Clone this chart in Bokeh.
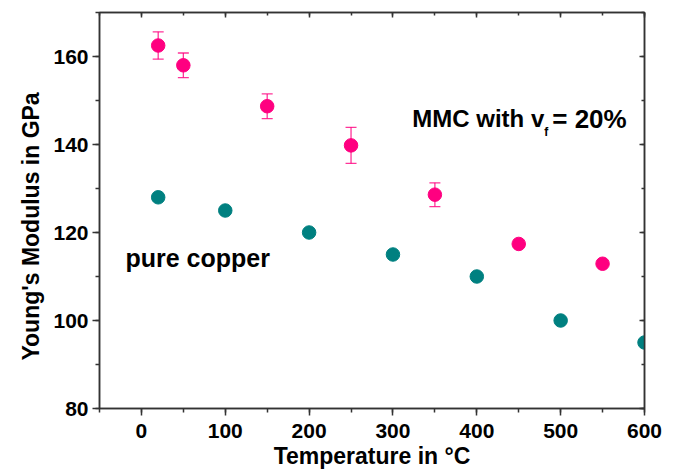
from bokeh.plotting import figure
from bokeh.models import (Range1d, SingleIntervalTicker, LinearAxis, ColumnDataSource,
                          Whisker, TeeHead, Label, CustomJSTickFormatter)
from bokeh.core.properties import value
from bokeh.embed import file_html
from bokeh.resources import INLINE

# Data
mmc_temp = [20, 50, 150, 250, 350, 450, 550]
mmc_mod = [162.5, 158.0, 148.7, 139.8, 128.6, 117.4, 112.9]
mmc_err_temp = [20, 50, 150, 250, 350]
mmc_err_mod = [162.5, 158.0, 148.7, 139.8, 128.6]
mmc_err = [3.1, 2.8, 2.8, 4.1, 2.7]

cu_temp = [20, 100, 200, 300, 400, 500, 600]
cu_mod = [128.0, 125.0, 120.0, 115.0, 110.0, 100.0, 95.0]

PINK = "#ff0080"
TEAL = "#008080"
FONT = "Liberation Sans"
AX = "#333333"

p = figure(width=672, height=471, output_backend="svg", toolbar_location=None,
           x_range=Range1d(-50, 600), y_range=Range1d(80, 170),
           min_border_left=99, min_border_right=28, min_border_top=12, min_border_bottom=63)
p.grid.visible = False
p.outline_line_color = AX
p.outline_line_width = 1.5
p.background_fill_color = "white"
p.border_fill_color = "white"

p.xaxis.ticker = SingleIntervalTicker(interval=100, num_minor_ticks=2)
p.yaxis.ticker = SingleIntervalTicker(interval=20, num_minor_ticks=2)

for ax in (p.xaxis[0], p.yaxis[0]):
    ax.axis_line_color = AX
    ax.axis_line_width = 1.5
    ax.major_tick_line_color = AX
    ax.minor_tick_line_color = AX
    ax.major_tick_line_width = 1.5
    ax.minor_tick_line_width = 1.5
    ax.major_tick_out = 7
    ax.major_tick_in = 0
    ax.minor_tick_out = 4
    ax.minor_tick_in = 0
    ax.major_label_text_font = FONT
    ax.major_label_text_font_style = "bold"
    ax.major_label_text_font_size = "21px"
    ax.major_label_text_color = "black"
    ax.axis_label_text_font = FONT
    ax.axis_label_text_font_style = "bold"
    ax.axis_label_text_font_size = "23px"
    ax.axis_label_text_color = "black"

p.xaxis.axis_label = "Temperature in °C"
p.yaxis.axis_label = "Young's Modulus in GPa" + "\u00a0" * 5
p.xaxis.major_label_standoff = 8
p.yaxis.major_label_standoff = 4
p.xaxis.axis_label_standoff = 2
p.yaxis.axis_label_standoff = 6

blank = CustomJSTickFormatter(code="return ''")
for loc, interval in (("above", 100), ("right", 20)):
    a = LinearAxis(ticker=SingleIntervalTicker(interval=interval, num_minor_ticks=2),
                   formatter=blank, major_label_text_font_size="6px",
                   major_tick_in=5, major_tick_out=0, minor_tick_in=3, minor_tick_out=0,
                   axis_line_color=AX, axis_line_width=1.5,
                   major_tick_line_color=AX, minor_tick_line_color=AX,
                   major_tick_line_width=1.5, minor_tick_line_width=1.5,
                   major_label_standoff=0)
    p.add_layout(a, loc)

# error bars
err_src = ColumnDataSource(dict(
    x=mmc_err_temp,
    upper=[m + e for m, e in zip(mmc_err_mod, mmc_err)],
    lower=[m - e for m, e in zip(mmc_err_mod, mmc_err)],
))
w = Whisker(source=err_src, base="x", upper="upper", lower="lower", dimension="height",
            line_color=PINK, line_alpha=0.8, line_width=1.3,
            upper_head=TeeHead(size=11, line_color=PINK, line_alpha=0.8, line_width=1.3),
            lower_head=TeeHead(size=11, line_color=PINK, line_alpha=0.8, line_width=1.3))
p.add_layout(w)

p.scatter(mmc_temp, mmc_mod, size=13.5, color=PINK, line_color=PINK)
p.scatter(cu_temp, cu_mod, size=13.5, color=TEAL, line_color=TEAL)

lab_kw = dict(text_font=FONT, text_font_style="bold", text_color="black",
              text_baseline="middle", text_align="left")
p.add_layout(Label(x=-19, y=114.3, text="pure copper", text_font_size="25px", **lab_kw))
p.add_layout(Label(x=323, y=145.9, text="MMC with v", text_font_size="24px", **lab_kw))
p.add_layout(Label(x=323, y=145.9, x_offset=132, y_offset=-13, text="f",
                   text_font_size="12px", **lab_kw))
p.add_layout(Label(x=323, y=145.9, x_offset=140, text="= 20%", text_font_size="26px", **lab_kw))

open("out.html", "w").write(file_html(p, INLINE))
